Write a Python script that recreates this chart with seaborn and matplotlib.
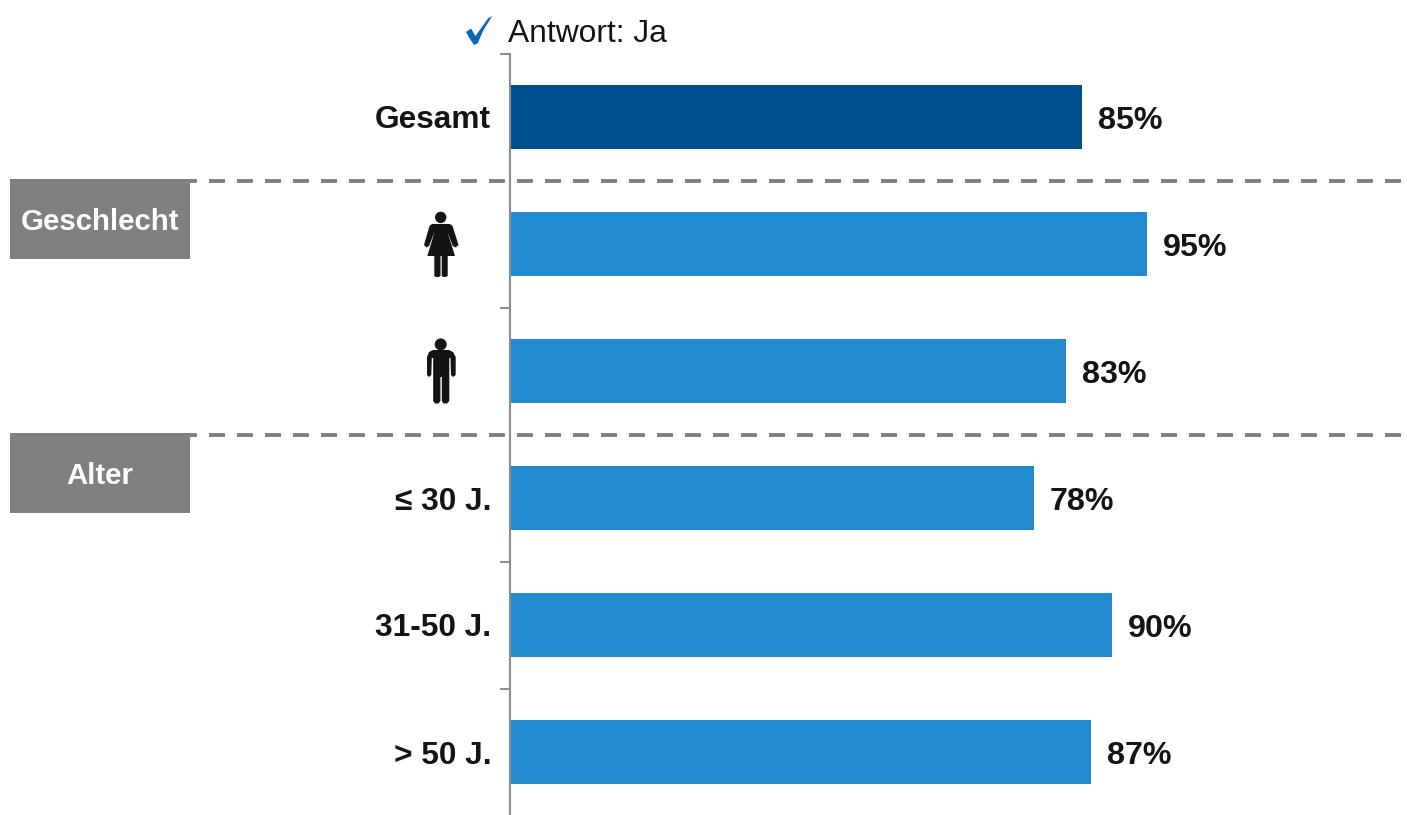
import matplotlib
matplotlib.use('Agg')
import matplotlib.pyplot as plt
from matplotlib.patches import Circle, Polygon, Rectangle
from matplotlib.transforms import ScaledTranslation
import pandas as pd
import seaborn as sns

# Chart data
categories = ['Gesamt', 'Frauen', 'Männer', '≤ 30 J.', '31-50 J.', '> 50 J.']
tick_labels = ['Gesamt', '', '', '≤ 30 J.', '31-50 J.', '> 50 J.']
values = [85.4, 95.0, 83.0, 78.2, 89.9, 86.7]
groups = ['total', 'sub', 'sub', 'sub', 'sub', 'sub']
group_colors = {'total': '#004f91', 'sub': '#228bd0'}
section_labels = ['Geschlecht', 'Alter']

sns.set_theme(style="white")
plt.rcParams['font.family'] = ['Liberation Sans', 'DejaVu Sans']

W, H = 1407, 815
TEXT = '#141414'
AXIS = '#8c8c8c'
fig = plt.figure(figsize=(W / 100, H / 100), dpi=100)

# Main axes, spine sits at x=510px, top at y=53px
ax = fig.add_axes([510 / W, -0.5 / H, (W - 510) / W, (H - 53) / H])
df = pd.DataFrame({'cat': categories, 'val': values, 'grp': groups})
sns.barplot(data=df, y='cat', x='val', hue='grp', palette=group_colors,
            dodge=False, legend=False, width=0.5, saturation=1, linewidth=0, ax=ax)
ax.set_xlim(0, (W - 510) / 6.7)
ax.set_ylim(5.5, -0.5)
ax.set_xlabel('')
ax.set_ylabel('')
ax.set_xticks([])
ax.set_yticks(range(len(categories)))
ax.set_yticklabels(tick_labels, fontsize=22.8, fontweight='bold', color=TEXT)
ax.tick_params(axis='y', which='major', length=0, pad=13.5)
ax.set_yticks([-0.5, 1.5, 3.5, 4.5], minor=True)
ax.tick_params(axis='y', which='minor', left=True, length=7.2, width=1.4, color=AXIS)
for s in ['top', 'right', 'bottom']:
    ax.spines[s].set_visible(False)
ax.spines['left'].set_color(AXIS)
ax.spines['left'].set_linewidth(1.5)

# Small vertical nudges of two labels
lab = ax.get_yticklabels()
lab[0].set_transform(lab[0].get_transform() + ScaledTranslation(0, 1 / 100, fig.dpi_scale_trans))
lab[3].set_transform(lab[3].get_transform() + ScaledTranslation(0, -1 / 100, fig.dpi_scale_trans))

for i, v in enumerate(values):
    ax.annotate(f'{v:.0f}%', (v, i), xytext=(11.5, -3), textcoords='offset points',
                va='center', ha='left', fontsize=23.2, fontweight='bold', color=TEXT)

# Overlay in pixel coordinates for the decorations
ov = fig.add_axes([0, 0, 1, 1], zorder=5)
ov.set_xlim(0, W)
ov.set_ylim(H, 0)
ov.axis('off')
ov.patch.set_alpha(0)

# Section boxes and dashed separators
for label, top in zip(section_labels, [179, 433]):
    ov.plot([181, 1401], [top + 2, top + 2], color='#808080', lw=2.8,
            dashes=(4.1, 3.1), dash_capstyle='butt', zorder=1)
    ov.add_patch(Rectangle((10, top), 180, 80, color='#808080', lw=0, zorder=2))
    ov.text(100, top + 43, label, color='white', fontsize=21.2, fontweight='bold',
            ha='center', va='center', zorder=3)

# Legend tick and text
ov.add_patch(Polygon([(466, 32), (471, 28.5), (475.5, 36), (488, 18.5), (492.3, 16), (483.5, 30),
                      (477.5, 43.5), (474, 45), (470, 39)], color='#0a66b5', lw=0))
ov.text(508, 34, 'Antwort: Ja', fontsize=22.9, color=TEXT, ha='left', va='center')

# Woman pictogram
ov.add_patch(Circle((440.7, 217.4), 5.7, color=TEXT, lw=0))
ov.add_patch(Polygon([(432, 224), (450, 224), (452.5, 226), (458.5, 245), (455.5, 247.5),
                      (452.8, 246), (447.5, 232), (455, 256), (447.7, 256), (447.7, 276),
                      (445.5, 277), (443.5, 277), (441.7, 276), (441.7, 256), (440.5, 256),
                      (440.5, 276), (438.5, 277), (436, 277), (434.3, 276), (434.3, 256),
                      (427.3, 256), (434.5, 232), (429, 246), (426.5, 247.5), (424, 245),
                      (429.5, 226)], color=TEXT, lw=0))

# Man pictogram
ov.add_patch(Circle((440.7, 344.4), 6, color=TEXT, lw=0))
ov.add_patch(Polygon([(433, 350), (449, 350), (453, 352), (455.7, 357), (455.7, 375),
                      (453, 377), (451, 375), (450.5, 358), (449.3, 358), (449.3, 401),
                      (447, 403.5), (443.5, 403.5), (441.8, 401), (441.8, 377), (440.4, 377),
                      (440.4, 401), (438.5, 403.5), (435, 403.5), (433.2, 401), (433.2, 358),
                      (431.8, 358), (431.3, 375), (429, 377), (427, 375), (427, 357),
                      (429, 352)], color=TEXT, lw=0))

fig.savefig('out.png', dpi=100)
